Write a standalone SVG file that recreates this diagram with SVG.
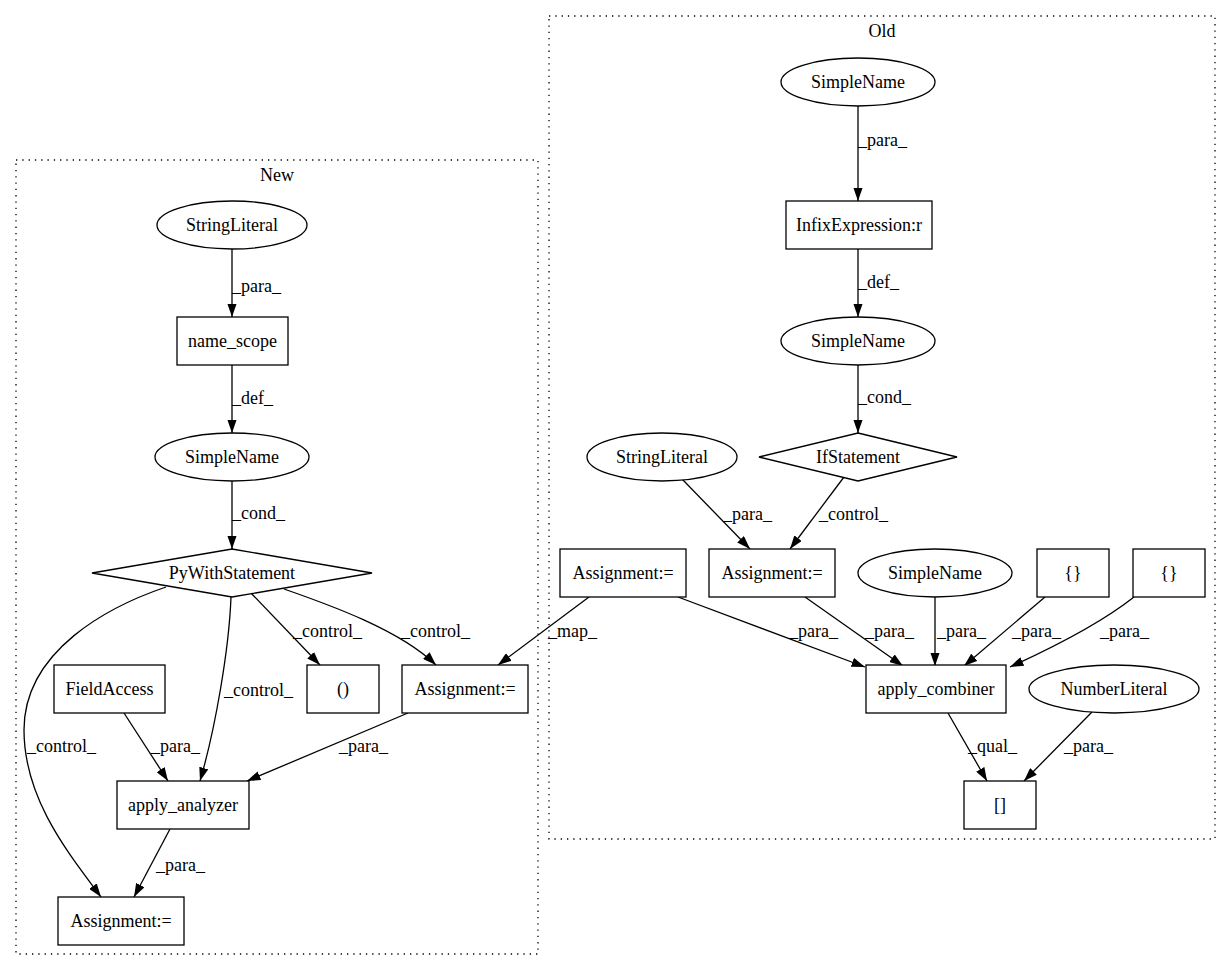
<svg xmlns="http://www.w3.org/2000/svg" width="1232" height="972" viewBox="0 0 1232 972">
<style>
text{font-family:"Liberation Serif","Times New Roman",serif;font-size:18px;fill:#000}
.c{text-anchor:middle}
.n{fill:#fff;stroke:#000;stroke-width:1.3}
.cl{fill:none;stroke:#000;stroke-width:1.3;stroke-dasharray:1.3,5}
.e{fill:none;stroke:#000;stroke-width:1.3;marker-end:url(#ah)}
</style>
<defs>
<marker id="ah" markerUnits="userSpaceOnUse" viewBox="0 0 13.5 9.4" refX="13.5" refY="4.7" markerWidth="13.5" markerHeight="9.4" orient="auto">
<path d="M0,0 L13.5,4.7 L0,9.4 z" fill="#000"/>
</marker>
</defs>
<rect width="1232" height="972" fill="#fff"/>
<g id="cluster-new">
<rect class="cl" x="16" y="160" width="522" height="794"/>
<text class="c" x="277" y="181">New</text>
</g>
<g id="cluster-old">
<rect class="cl" x="549" y="16" width="666" height="823"/>
<text class="c" x="882" y="37">Old</text>
</g>
<g id="connectors">
<path class="e" d="M232,249 L232,317"/>
<text x="232" y="292">_para_</text>
<path class="e" d="M232,365 L232,433"/>
<text x="232" y="404">_def_</text>
<path class="e" d="M232,481 L232,549"/>
<text x="232" y="519">_cond_</text>
<path class="e" d="M166,587 C110,606 24,650 24,730 C24,800 70,855 101,897"/>
<text x="27" y="752">_control_</text>
<path class="e" d="M231,597 C229,650 215,730 200,781"/>
<text x="224" y="696">_control_</text>
<path class="e" d="M251,593 L320,665"/>
<text x="293" y="637">_control_</text>
<path class="e" d="M284,589 C330,605 400,630 436,665"/>
<text x="401" y="637">_control_</text>
<path class="e" d="M589,597 L498,665"/>
<text x="548" y="637">_map_</text>
<path class="e" d="M124,713 L168,781"/>
<text x="151" y="752">_para_</text>
<path class="e" d="M408,713 L247,781"/>
<text x="339" y="752">_para_</text>
<path class="e" d="M170,829 L134,897"/>
<text x="156" y="871">_para_</text>
<path class="e" d="M858,106 L858,201"/>
<text x="858" y="146">_para_</text>
<path class="e" d="M858,249 L858,317"/>
<text x="858" y="288">_def_</text>
<path class="e" d="M858,365 L858,433"/>
<text x="858" y="403">_cond_</text>
<path class="e" d="M682,479 L750,549"/>
<text x="723" y="520">_para_</text>
<path class="e" d="M844,477 L790,549"/>
<text x="819" y="520">_control_</text>
<path class="e" d="M678,597 L865,667"/>
<text x="789" y="637">_para_</text>
<path class="e" d="M805,597 L903,666"/>
<text x="865" y="637">_para_</text>
<path class="e" d="M935,597 L935,666"/>
<text x="937" y="637">_para_</text>
<path class="e" d="M1045,597 L964,666"/>
<text x="1012" y="637">_para_</text>
<path class="e" d="M1134,597 C1105,620 1065,642 1010,667"/>
<text x="1100" y="637">_para_</text>
<path class="e" d="M948,713 L987,781"/>
<text x="968" y="752">_qual_</text>
<path class="e" d="M1092,712 L1024,781"/>
<text x="1064" y="752">_para_</text>
</g>
<g id="n_sl_new"><ellipse class="n" cx="232" cy="225" rx="75" ry="24"/><text class="c" x="232" y="231">StringLiteral</text></g>
<g id="n_name_scope"><rect class="n" x="177" y="317" width="111" height="48"/><text class="c" x="232.5" y="347">name_scope</text></g>
<g id="n_sn_new"><ellipse class="n" cx="232" cy="457" rx="77" ry="24"/><text class="c" x="232" y="463">SimpleName</text></g>
<g id="n_pywith"><polygon class="n" points="232,549 372,573 232,597 92,573"/><text class="c" x="232" y="579">PyWithStatement</text></g>
<g id="n_fieldaccess"><rect class="n" x="54" y="665" width="111" height="48"/><text class="c" x="109.5" y="695">FieldAccess</text></g>
<g id="n_paren"><rect class="n" x="307" y="665" width="72" height="48"/><text class="c" x="343" y="695">()</text></g>
<g id="n_asg_new"><rect class="n" x="402" y="665" width="126" height="48"/><text class="c" x="465" y="695">Assignment:=</text></g>
<g id="n_apply_analyzer"><rect class="n" x="117" y="781" width="132" height="48"/><text class="c" x="183" y="811">apply_analyzer</text></g>
<g id="n_asg_out"><rect class="n" x="58" y="897" width="126" height="48"/><text class="c" x="121" y="927">Assignment:=</text></g>
<g id="o_sn1"><ellipse class="n" cx="858" cy="82" rx="77" ry="24"/><text class="c" x="858" y="88">SimpleName</text></g>
<g id="o_infix"><rect class="n" x="786" y="201" width="146" height="48"/><text class="c" x="859" y="231">InfixExpression:r</text></g>
<g id="o_sn2"><ellipse class="n" cx="858" cy="341" rx="77" ry="24"/><text class="c" x="858" y="347">SimpleName</text></g>
<g id="o_if"><polygon class="n" points="858,433 957,457 858,481 759,457"/><text class="c" x="858" y="463">IfStatement</text></g>
<g id="o_sl"><ellipse class="n" cx="662" cy="457" rx="75" ry="24"/><text class="c" x="662" y="463">StringLiteral</text></g>
<g id="o_a1"><rect class="n" x="560" y="549" width="126" height="48"/><text class="c" x="623" y="579">Assignment:=</text></g>
<g id="o_a2"><rect class="n" x="709" y="549" width="126" height="48"/><text class="c" x="772" y="579">Assignment:=</text></g>
<g id="o_sn3"><ellipse class="n" cx="935" cy="573" rx="77" ry="24"/><text class="c" x="935" y="579">SimpleName</text></g>
<g id="o_br1"><rect class="n" x="1037" y="549" width="72" height="48"/><text class="c" x="1073" y="579">{}</text></g>
<g id="o_br2"><rect class="n" x="1133" y="549" width="72" height="48"/><text class="c" x="1169" y="579">{}</text></g>
<g id="o_apply_combiner"><rect class="n" x="866" y="665" width="140" height="48"/><text class="c" x="936" y="695">apply_combiner</text></g>
<g id="o_nl"><ellipse class="n" cx="1114" cy="689" rx="85" ry="24"/><text class="c" x="1114" y="695">NumberLiteral</text></g>
<g id="o_sq"><rect class="n" x="964" y="781" width="72" height="48"/><text class="c" x="1000" y="811">[]</text></g>
</svg>
